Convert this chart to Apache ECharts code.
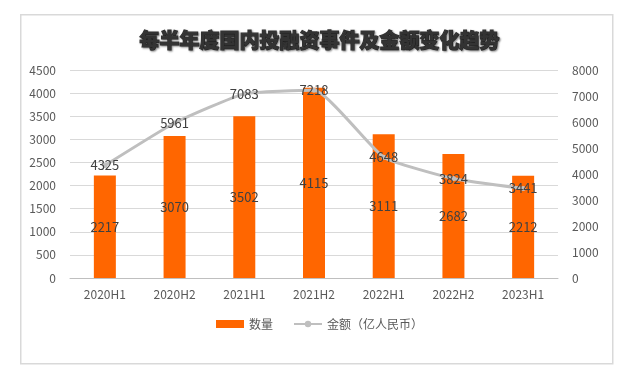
<!DOCTYPE html>
<html><head><meta charset="utf-8">
<script src="https://cdn.jsdelivr.net/npm/echarts@6/dist/echarts.min.js"></script>
<style>html,body{margin:0;padding:0;background:#fff}#c{width:639px;height:381px}</style>
</head><body><div id="c"></div>
<script>
const categories = ['2020H1','2020H2','2021H1','2021H2','2022H1','2022H2','2023H1'];
const countValues = [2217, 3070, 3502, 4115, 3111, 2682, 2212];
const amountValues = [4325, 5961, 7083, 7218, 4648, 3824, 3441];
const leftTicks = {min: 0, max: 4500, interval: 500};
const rightTicks = {min: 0, max: 8000, interval: 1000};

const chart = echarts.init(document.getElementById('c'), null, {renderer: 'canvas'});
const font = '"Noto Sans CJK SC", "Open Sans", sans-serif';
const plain = v => String(v);
chart.setOption({
  animation: false,
  backgroundColor: '#fff',
  textStyle: {fontFamily: font},
  graphic: [{
    type: 'rect', left: 20, top: 14, z: -1,
    shape: {width: 592, height: 349},
    style: {fill: '#fff', stroke: '#d9d9d9', lineWidth: 1.5}
  }],
  title: {
    text: '每半年度国内投融资事件及金额变化趋势',
    left: 'center', top: 25,
    textStyle: {fontFamily: font, fontSize: 20, fontWeight: 900, color: '#333',
      textBorderColor: '#333', textBorderWidth: 1.2,
      textShadowColor: 'rgba(0,0,0,0.4)', textShadowBlur: 2, textShadowOffsetX: 1, textShadowOffsetY: 1}
  },
  legend: {
    bottom: 46, left: 'center', itemGap: 20,
    textStyle: {color: '#595959', fontSize: 12, fontFamily: font},
    data: [
      {name: '数量', icon: 'rect', itemStyle: {color: '#FF6600'}},
      {name: '金额（亿人民币）'}
    ],
    itemWidth: 28, itemHeight: 8
  },
  grid: {left: 70, right: 81, top: 70, bottom: 103},
  xAxis: {
    type: 'category', data: categories,
    axisLine: {lineStyle: {color: '#bfbfbf'}},
    axisTick: {show: false},
    axisLabel: {color: '#595959', fontSize: 12, margin: 10}
  },
  yAxis: [{
    type: 'value', min: leftTicks.min, max: leftTicks.max, interval: leftTicks.interval,
    axisLine: {show: false}, axisTick: {show: false},
    axisLabel: {color: '#595959', fontSize: 12, margin: 14, formatter: plain},
    splitLine: {lineStyle: {color: '#d9d9d9'}}
  }, {
    type: 'value', min: rightTicks.min, max: rightTicks.max, interval: rightTicks.interval,
    axisLine: {show: false}, axisTick: {show: false},
    axisLabel: {color: '#595959', fontSize: 12, margin: 14, formatter: plain},
    splitLine: {show: false}
  }],
  series: [{
    name: '数量', type: 'bar', data: countValues, barWidth: 22,
    itemStyle: {color: '#FF6600'},
    label: {show: true, position: 'inside', color: '#404040', fontSize: 13}
  }, {
    name: '金额（亿人民币）', type: 'line', yAxisIndex: 1, data: amountValues,
    smooth: 0.15, symbol: 'circle', symbolSize: 5, showSymbol: true,
    lineStyle: {color: '#bfbfbf', width: 3},
    itemStyle: {color: '#bfbfbf'},
    label: {show: true, position: 'inside', color: '#404040', fontSize: 13},
    z: 3
  }]
});
</script></body></html>
